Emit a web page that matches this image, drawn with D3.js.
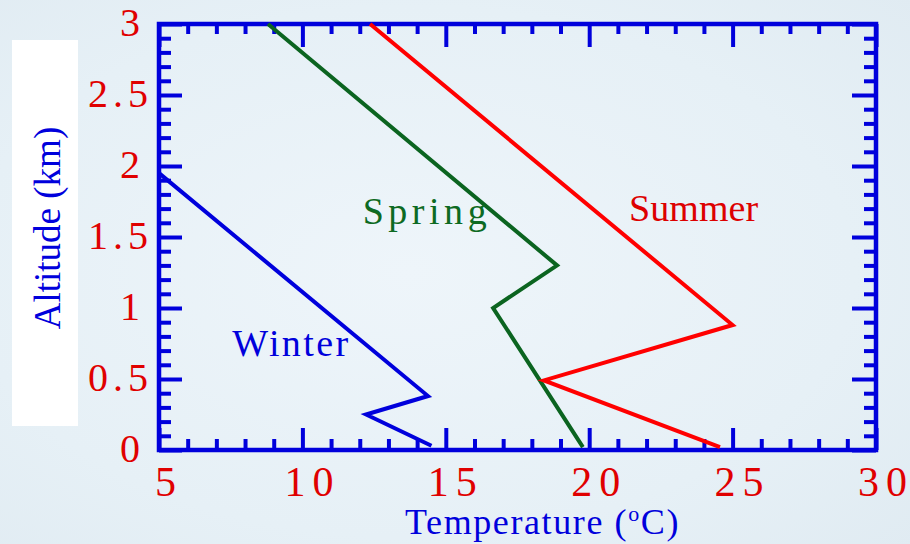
<!DOCTYPE html>
<html>
<head>
<meta charset="utf-8">
<script src="https://cdn.jsdelivr.net/npm/d3@7"></script>
<style>
  html, body { margin: 0; padding: 0; }
  body { width: 910px; height: 544px; overflow: hidden; }
  svg { display: block; }
</style>
</head>
<body>
<svg id="chart" width="910" height="544"></svg>
<script>
// Seasonal temperature profiles: temperature (°C) against altitude (km)
const seasons = ["Winter", "Spring", "Summer"];
const winterTemp = [5.0, 14.38, 12.22, 14.5];
const winterAlt  = [1.95, 0.38, 0.25, 0.03];
const springTemp = [8.8, 18.88, 16.65, 19.78];
const springAlt  = [3.0, 1.30, 1.00, 0.02];
const summerTemp = [12.36, 25.0, 18.42, 24.56];
const summerAlt  = [3.0, 0.88, 0.49, 0.02];

// Where each season's name is written (temperature, altitude of the baseline start)
const labelTemp = [7.55, 12.1, 21.39];
const labelAlt  = [0.66, 1.59, 1.61];

const xMajorTicks = [5, 10, 15, 20, 25, 30];
const xTickLabels = ["5", "10", "15", "20", "25", "30"];
const yMajorTicks = [0, 0.5, 1, 1.5, 2, 2.5, 3];
const yTickLabels = ["0", "0.5", "1", "1.5", "2", "2.5", "3"];

const xTitle = "Temperature (";
const yTitle = "Altitude (km)";

const colors = { Winter: "#0000dc", Spring: "#0b6420", Summer: "#ff0000" };
const labelColors = { Winter: "#0000dc", Spring: "#0d6a22", Summer: "#dd0000" };
const axisBlue = "#0000dc";
const tickRed = "#e00000";
const serif = "'Liberation Serif', 'Times New Roman', serif";

const svg = d3.select("#chart");
const W = 910, H = 544;
const plot = { left: 159, right: 876, top: 24, bottom: 450 };

// background wash
const defs = svg.append("defs");
const bg = defs.append("radialGradient").attr("id", "bgGrad")
  .attr("cx", "45%").attr("cy", "50%").attr("r", "75%");
bg.append("stop").attr("offset", "0%").attr("stop-color", "#eef5fa");
bg.append("stop").attr("offset", "65%").attr("stop-color", "#e6f0f6");
bg.append("stop").attr("offset", "100%").attr("stop-color", "#e0ebf2");
svg.append("rect").attr("width", W).attr("height", H).attr("fill", "url(#bgGrad)");

// white panel behind the vertical title
svg.append("rect").attr("x", 12).attr("y", 40).attr("width", 66).attr("height", 386)
  .attr("fill", "#ffffff");

const x = d3.scaleLinear().domain([5, 30]).range([plot.left, plot.right]);
const y = d3.scaleLinear().domain([0, 3]).range([plot.bottom, plot.top]);

const xMinor = d3.range(5, 30.01, 1).filter(v => !xMajorTicks.includes(v));
const yMinor = d3.range(0, 31, 1).map(v => v / 10).filter(v => !yMajorTicks.includes(v));

function styleTicks(g, w) {
  g.select(".domain").remove();
  g.selectAll(".tick line").attr("stroke", axisBlue).attr("stroke-width", w);
}

// writes a label character by character with a fixed gap between glyphs
function spaced(textSel, labels, gap) {
  textSel.text(null).each(function(d, i) {
    const t = d3.select(this);
    [...labels[i]].forEach((ch, k) => {
      t.append("tspan").attr("dx", k === 0 ? 0 : gap).text(ch);
    });
  });
}

const tw = 4;

// bottom axis: inward ticks, red labels below
svg.append("g").attr("transform", `translate(0,${plot.bottom})`)
  .call(d3.axisBottom(x).tickValues(xMinor).tickSizeInner(-11).tickSizeOuter(0).tickFormat(""))
  .call(g => styleTicks(g, tw));
svg.append("g").attr("transform", `translate(0,${plot.bottom})`)
  .call(d3.axisBottom(x).tickValues(xMajorTicks).tickSizeInner(-22).tickSizeOuter(0)
    .tickFormat((d, i) => xTickLabels[i]))
  .call(g => styleTicks(g, tw))
  .call(g => g.selectAll(".tick text")
    .attr("y", 46).attr("dy", 0).attr("dx", 0).attr("x", 6)
    .attr("fill", tickRed).attr("font-family", serif).attr("font-size", 42)
    .attr("text-anchor", "middle")
    .call(sel => spaced(sel, xTickLabels, 7)));

// top axis: inward ticks, no labels
svg.append("g").attr("transform", `translate(0,${plot.top})`)
  .call(d3.axisTop(x).tickValues(xMinor).tickSizeInner(-10).tickSizeOuter(0).tickFormat(""))
  .call(g => styleTicks(g, tw));
svg.append("g").attr("transform", `translate(0,${plot.top})`)
  .call(d3.axisTop(x).tickValues(xMajorTicks).tickSizeInner(-23).tickSizeOuter(0).tickFormat(""))
  .call(g => styleTicks(g, tw));

// left axis: inward ticks, red labels on the left
svg.append("g").attr("transform", `translate(${plot.left},0)`)
  .call(d3.axisLeft(y).tickValues(yMinor).tickSizeInner(-12).tickSizeOuter(0).tickFormat(""))
  .call(g => styleTicks(g, tw));
svg.append("g").attr("transform", `translate(${plot.left},0)`)
  .call(d3.axisLeft(y).tickValues(yMajorTicks).tickSizeInner(-23).tickSizeOuter(0)
    .tickFormat((d, i) => yTickLabels[i]))
  .call(g => styleTicks(g, tw))
  .call(g => g.selectAll(".tick text")
    .attr("x", (d, i) => yTickLabels[i].length > 1 ? -11 : -19)
    .attr("dy", 11.5)
    .attr("fill", tickRed).attr("font-family", serif).attr("font-size", 40)
    .attr("text-anchor", "end")
    .call(sel => spaced(sel, yTickLabels, 5)));

// right axis: inward ticks
svg.append("g").attr("transform", `translate(${plot.right},0)`)
  .call(d3.axisRight(y).tickValues(yMinor).tickSizeInner(-12).tickSizeOuter(0).tickFormat(""))
  .call(g => styleTicks(g, tw));
svg.append("g").attr("transform", `translate(${plot.right},0)`)
  .call(d3.axisRight(y).tickValues(yMajorTicks).tickSizeInner(-24).tickSizeOuter(0).tickFormat(""))
  .call(g => styleTicks(g, tw));

// frame
svg.append("rect")
  .attr("x", plot.left).attr("y", plot.top)
  .attr("width", plot.right - plot.left).attr("height", plot.bottom - plot.top)
  .attr("fill", "none").attr("stroke", axisBlue).attr("stroke-width", 4.5);

// profiles
const series = [
  { name: "Winter", t: winterTemp, a: winterAlt },
  { name: "Spring", t: springTemp, a: springAlt },
  { name: "Summer", t: summerTemp, a: summerAlt }
];
const line = d3.line().x(d => x(d[0])).y(d => y(d[1]));
svg.append("g").selectAll("path").data(series).join("path")
  .attr("d", s => line(s.t.map((t, i) => [t, s.a[i]])))
  .attr("fill", "none")
  .attr("stroke", s => colors[s.name])
  .attr("stroke-width", 4)
  .attr("stroke-linejoin", "miter")
  .attr("stroke-miterlimit", 10);

// season names
const labelWidths = { Winter: 116, Spring: 124, Summer: 129 };
svg.append("g").selectAll("text").data(seasons).join("text")
  .attr("x", (d, i) => x(labelTemp[i]))
  .attr("y", (d, i) => y(labelAlt[i]))
  .attr("fill", d => labelColors[d])
  .attr("font-family", serif)
  .attr("font-size", 38)
  .attr("textLength", d => labelWidths[d])
  .attr("lengthAdjust", "spacing")
  .text(d => d);

// axis titles
const xt = svg.append("text")
  .attr("x", 405).attr("y", 534)
  .attr("fill", axisBlue).attr("font-family", serif).attr("font-size", 36)
  .attr("letter-spacing", 1.6);
xt.append("tspan").text(xTitle);
xt.append("tspan").attr("font-size", 22).attr("dy", -13).text("o");
xt.append("tspan").attr("dy", 13).text("C)");

svg.append("text")
  .attr("transform", "translate(60,228) rotate(-90)")
  .attr("text-anchor", "middle")
  .attr("fill", axisBlue).attr("font-family", serif).attr("font-size", 37)
  .text(yTitle);
</script>
</body>
</html>
